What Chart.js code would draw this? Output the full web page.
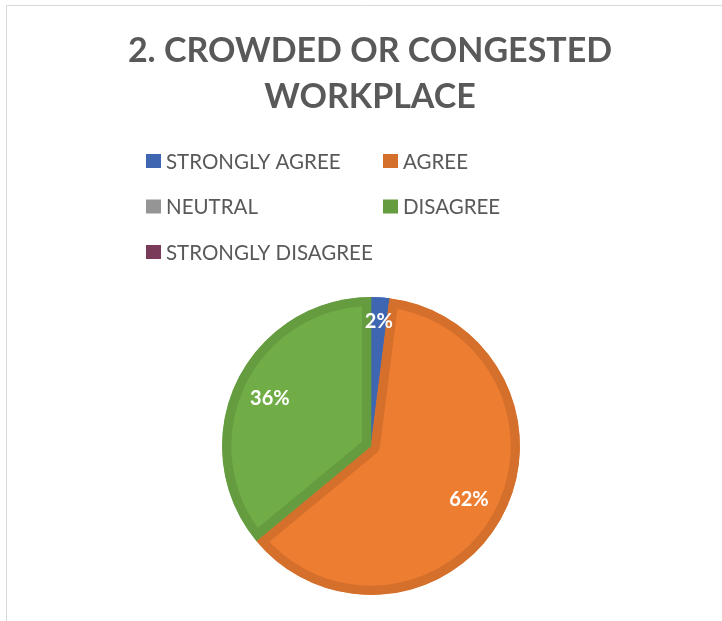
<!DOCTYPE html>
<html>
<head>
<meta charset="utf-8">
<script src="https://cdn.jsdelivr.net/npm/chart.js@4.4.1/dist/chart.umd.min.js"></script>
<style>
  html, body { margin: 0; padding: 0; background: #ffffff; }
  #wrap { position: relative; width: 722px; height: 621px; }
</style>
</head>
<body>
<div id="wrap"><canvas id="pieChart" width="722" height="621"></canvas></div>
<script>
// Survey answers, share of respondents (%)
const titleLines = ['2. CROWDED OR CONGESTED', 'WORKPLACE'];
const categories = ['STRONGLY AGREE', 'AGREE', 'NEUTRAL', 'DISAGREE', 'STRONGLY DISAGREE'];
const shares = [2, 62, 0, 36, 0];
const fillColors = ['#4472C4', '#ED7D31', '#A5A5A5', '#70AD47', '#843F63'];
const edgeColors = ['#3F67B1', '#D5702C', '#959595', '#649C3F', '#7A3B5B'];

const FONT = 'Lato, "Open Sans", sans-serif';

// title, two-column legend and the thin frame, all painted on the canvas
const decorPlugin = {
    id: 'decor',
    beforeDraw(chart) {
        const ctx = chart.ctx;
        ctx.save();
        ctx.strokeStyle = '#d9d9d9';
        ctx.lineWidth = 1;
        ctx.beginPath();
        ctx.moveTo(6.5, 621);
        ctx.lineTo(6.5, 5.5);
        ctx.lineTo(722, 5.5);
        ctx.stroke();
        ctx.restore();
    },
    afterDraw(chart) {
        const ctx = chart.ctx;
        ctx.save();
        ctx.fillStyle = '#595959';
        ctx.textAlign = 'center';
        ctx.textBaseline = 'middle';
        ctx.font = 'bold 34px ' + FONT;
        titleLines.forEach((line, i) => ctx.fillText(line, 370, 51 + i * 46));

        ctx.font = '20.5px ' + FONT;
        ctx.textAlign = 'left';
        const colX = [146, 383];
        categories.forEach((label, i) => {
            const x = colX[i % 2];
            const y = 161 + Math.floor(i / 2) * 45.5;
            ctx.fillStyle = edgeColors[i];
            ctx.fillRect(x, y - 7, 15, 14);
            ctx.fillStyle = '#595959';
            ctx.fillText(label, x + 20, y + 1);
        });

        // percentage labels inside the slices
        const meta = chart.getDatasetMeta(0);
        ctx.font = 'bold 20px ' + FONT;
        ctx.textAlign = 'center';
        ctx.fillStyle = '#ffffff';
        meta.data.forEach((arc, i) => {
            const v = shares[i];
            if (!v) return;
            const p = arc.getProps(['x', 'y', 'startAngle', 'endAngle', 'outerRadius'], true);
            const mid = (p.startAngle + p.endAngle) / 2;
            const r = p.outerRadius * (v < 5 ? 0.84 : 0.75);
            ctx.fillText(v + '%', p.x + Math.cos(mid) * r, p.y + Math.sin(mid) * r);
        });
        ctx.restore();
    }
};

new Chart(document.getElementById('pieChart'), {
    type: 'pie',
    data: {
        labels: categories,
        datasets: [{
            data: shares,
            backgroundColor: fillColors,
            borderColor: edgeColors,
            borderWidth: 9,
            borderAlign: 'inner'
        }]
    },
    options: {
        responsive: false,
        animation: false,
        layout: { padding: { top: 297, bottom: 26, left: 20, right: 0 } },
        plugins: {
            legend: { display: false },
            title: { display: false },
            tooltip: { enabled: false }
        }
    },
    plugins: [decorPlugin]
});
</script>
</body>
</html>
